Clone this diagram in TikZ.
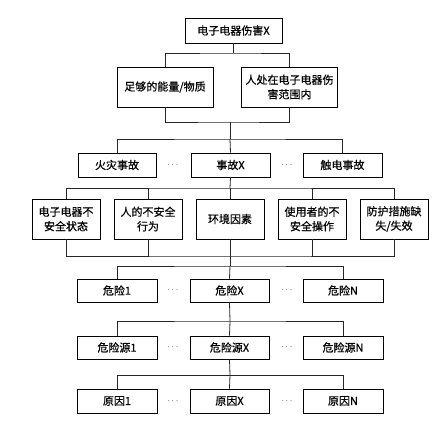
\documentclass[tikz,border=0pt]{standalone}
\usepackage{fontspec}
\setmainfont{Noto Sans CJK SC}[FakeBold=0.6]
\begin{document}
\begin{tikzpicture}[x=1pt,y=-1pt,
  every path/.style={line width=0.8pt},
  bx/.style={draw, line width=0.8pt, inner sep=0pt, align=center, font=\fontsize{11}{14.5}\selectfont},
  dt/.style={inner sep=0pt, font=\fontsize{9}{10}\selectfont},
  ln/.style={line width=0.8pt, draw=black!85}]
\path[use as bounding box] (0,0) rectangle (446,426);
% level 0
\node[bx, minimum width=97pt, minimum height=25pt] (top) at (233.5,30.5) {电子电器伤害X};
% level 1
\node[bx, minimum width=96pt, minimum height=40pt] (a1) at (165,87) {足够的能量/物质};
\node[bx, minimum width=96pt, minimum height=40pt] (a2) at (289.5,87) {人处在电子电器伤\\害范围内};
% level 2
\node[bx, minimum width=78pt, minimum height=24pt] (b1) at (117,165) {火灾事故};
\node[bx, minimum width=79pt, minimum height=24pt] (b2) at (230.5,165) {事故X};
\node[bx, minimum width=79pt, minimum height=24pt] (b3) at (342.5,165) {触电事故};
\node[dt] (bd1) at (173,165) {$\cdots$};
\node[dt] (bd2) at (287,165) {$\cdots$};
% level 3
\node[bx, minimum width=68pt, minimum height=40pt] (c1) at (66,219) {电子电器不\\安全状态};
\node[bx, minimum width=68pt, minimum height=40pt] (c2) at (148,219) {人的不安全\\行为};
\node[bx, minimum width=68pt, minimum height=40pt] (c3) at (230,219) {环境因素};
\node[bx, minimum width=68pt, minimum height=40pt] (c4) at (312,219) {使用者的不\\安全操作};
\node[bx, minimum width=68pt, minimum height=40pt] (c5) at (394,219) {防护措施缺\\失/失效};
% level 4
\node[bx, minimum width=80pt, minimum height=23pt] (d1) at (117,290.5) {危险1};
\node[bx, minimum width=79pt, minimum height=23pt] (d2) at (229.5,290.5) {危险X};
\node[bx, minimum width=80pt, minimum height=23pt] (d3) at (343,290.5) {危险N};
\node[dt] (dd1) at (173,290.5) {$\cdots$};
\node[dt] (dd2) at (287,290.5) {$\cdots$};
% level 5
\node[bx, minimum width=80pt, minimum height=23pt] (e1) at (117,347.5) {危险源1};
\node[bx, minimum width=79pt, minimum height=23pt] (e2) at (229.5,347.5) {危险源X};
\node[bx, minimum width=80pt, minimum height=23pt] (e3) at (343,347.5) {危险源N};
\node[dt] (ed1) at (173,347.5) {$\cdots$};
\node[dt] (ed2) at (287,347.5) {$\cdots$};
% level 6
\node[bx, minimum width=80pt, minimum height=24pt] (f1) at (117,401) {原因1};
\node[bx, minimum width=79pt, minimum height=24pt] (f2) at (229.5,401) {原因X};
\node[bx, minimum width=80pt, minimum height=24pt] (f3) at (343,401) {原因N};
\node[dt] (fd1) at (173,401) {$\cdots$};
\node[dt] (fd2) at (287,401) {$\cdots$};
% junctions
\coordinate (j1) at (233.5,53);
\coordinate (j2) at (230,122);
\coordinate (j3) at (230,139);
\coordinate (j4) at (230,188);
\coordinate (j5) at (230,256);
\coordinate (j6) at (230,266);
\coordinate (j7) at (230,321);
\coordinate (j8) at (230,375);
% connectors
\draw[ln] (top.south) -- (j1);
\draw[ln] (a1.north) |- (j1) -| (a2.north);
\draw[ln] (a1.south) |- (j2) -| (a2.south);
\draw[ln] (j2) -- (j3);
\draw[ln] (b1.north) |- (j3) -| (b3.north);
\draw[ln] (j3) -- (b2.north);
\draw[ln] (b2.south) -- (j4);
\draw[ln] (c1.north) |- (j4) -| (c5.north);
\draw[ln] (c2.north) -- (c2.north |- j4);
\draw[ln] (c3.north) -- (j4);
\draw[ln] (c4.north) -- (c4.north |- j4);
\draw[ln] (c1.south) |- (j5) -| (c5.south);
\draw[ln] (c2.south) -- (c2.south |- j5);
\draw[ln] (c3.south) -- (j5);
\draw[ln] (c4.south) -- (c4.south |- j5);
\draw[ln] (j5) -- (j6);
\draw[ln] (d1.north) |- (j6) -| (d3.north);
\draw[ln] (j6) -- (d2.north);
\draw[ln] (d2.south) -- (j7);
\draw[ln] (e1.north) |- (j7) -| (e3.north);
\draw[ln] (j7) -- (e2.north);
\draw[ln] (e2.south) -- (j8);
\draw[ln] (f1.north) |- (j8) -| (f3.north);
\draw[ln] (j8) -- (f2.north);
\end{tikzpicture}
\end{document}
